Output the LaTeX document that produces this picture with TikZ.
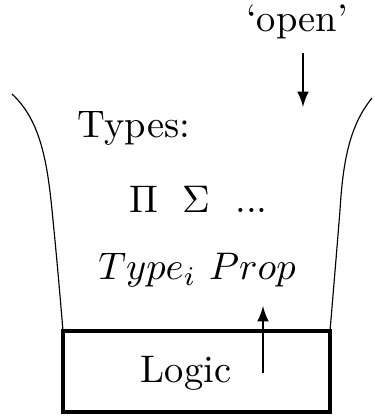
\documentclass[tikz,border=0pt]{standalone}
\usetikzlibrary{arrows}
\begin{document}
\begin{tikzpicture} [x = 0.26pt, y = -0.26pt, >=latex, every node/.style = {inner sep = 0pt, anchor = base}]
	\useasboundingbox (0,0) rectangle (375,417);
	% the box at the bottom
	\coordinate (boxnw) at (63,331);
	\coordinate (boxse) at (330,412);
	\draw [thick] (boxnw) rectangle (boxse);
	% the two sides of the funnel
	\draw [line width = 0.3pt] (12,94) .. controls (40,120) and (47,160) .. (52,210) .. controls (57,260) and (60,295) .. (boxnw);
	\draw [line width = 0.3pt] (372,98) .. controls (350,125) and (343,160) .. (340,210) .. controls (336,260) and (333,295) .. (boxse |- boxnw);
	% texts
	\node (open) at (297,32) {`open'};
	\node [anchor = base west] (types) at (77,138) {Types:};
	\node (pi) at (143.5,213) {$\Pi$};
	\node (sigma) at (196,213) {$\Sigma$};
	\node (dots) at (251.5,213) {...};
	\node (univ) at (197,280) {$Type_i$ $Prop$};
	\node (logic) at (186,382) {Logic};
	% arrows
	\coordinate (opentop) at (303,53);
	\coordinate (openbot) at (303,107);
	\draw [->] (opentop) -- (openbot);
	\coordinate (logicbot) at (263,373);
	\coordinate (logictop) at (263,306);
	\draw [->] (logicbot) -- (logictop);
\end{tikzpicture}
\end{document}
